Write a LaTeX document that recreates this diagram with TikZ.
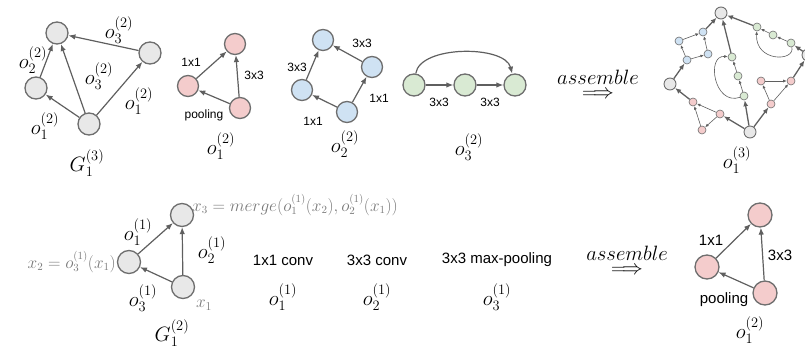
\documentclass[tikz,border=0pt]{standalone}
\usepackage{amsmath,amssymb}
\usepackage{fontspec}
\setsansfont{Liberation Sans}
\usetikzlibrary{arrows.meta,positioning,calc}
\definecolor{nodegray}{HTML}{E8E8E8}
\definecolor{linegray}{HTML}{6E6E6E}
\definecolor{edgegray}{HTML}{5F5F5F}
\definecolor{pinkfill}{HTML}{F4CCCC}
\definecolor{bluefill}{HTML}{CFE2F3}
\definecolor{greenfill}{HTML}{D9EAD3}
\definecolor{notegray}{HTML}{7A7A7A}
\tikzset{
  cell/.style={circle, draw=linegray, fill=nodegray, line width=1.3pt,
    minimum size=22pt, inner sep=0pt},
  pcell/.style={cell, fill=pinkfill, minimum size=21pt},
  bcell/.style={cell, fill=bluefill, minimum size=21pt},
  gcell/.style={cell, fill=greenfill, minimum size=22pt},
  % the assembled graph
  dot/.style={circle, draw=linegray, fill=nodegray, line width=0.9pt,
    minimum size=12pt, inner sep=0pt},
  tdot/.style={dot, minimum size=8pt, line width=0.6pt},
  edge/.style={-{Latex[length=7pt,width=5.5pt]}, line width=1.2pt, color=edgegray},
  thinedge/.style={-{Latex[length=3.5pt,width=3pt]}, line width=0.6pt, color=edgegray},
  thickedge/.style={-{Latex[length=6pt,width=5pt]}, line width=1.3pt, color=edgegray},
  oplbl/.style={font=\sffamily\fontsize{12}{14}\selectfont, inner sep=0pt},
  opname/.style={font=\sffamily\fontsize{15}{17}\selectfont, inner sep=0pt},
  mlbl/.style={font=\fontsize{20}{24}\selectfont, inner sep=0pt},
  asm/.style={font=\fontsize{20}{24}\selectfont, inner sep=0pt, align=center},
  note/.style={font=\fontsize{16}{18}\selectfont, text=notegray, inner sep=0pt},
}
\begin{document}
\begin{tikzpicture}[x=1pt,y=-1pt]
  \useasboundingbox (0,0) rectangle (805,352);

  % G_1^(3)
  \foreach \n/\x/\y in {ga/57/33, gb/150/53, gc/36/88, gd/89/124}
    \node[cell] (\n) at (\x,\y) {};
  \foreach \s/\t in {gd/gc, gc/ga, gd/ga, gd/gb, gb/ga}
    \draw[edge] (\s) -- (\t);
  \node[mlbl] (ga3) at (119,30) {$o_3^{(2)}$};
  \node[mlbl] (ga2) at (33,60) {$o_2^{(2)}$};
  \node[mlbl] (gm3) at (99,76) {$o_3^{(2)}$};
  \node[mlbl] (gb1) at (139,101) {$o_1^{(2)}$};
  \node[mlbl] (gc1) at (45,126) {$o_1^{(2)}$};
  \node[mlbl] (gname) at (87,163) {$G_1^{(3)}$};

  % o_1^(2)
  \node[pcell] (pa) at (235,44) {};
  \node[pcell] (pb) at (188,86) {};
  \node[pcell] (pc) at (240,108) {};
  \draw[edge] (pc) -- (pb);
  \draw[edge] (pb) -- (pa);
  \draw[edge] (pc) -- (pa);
  \node[oplbl] (p11) at (191,62) {1x1};
  \node[oplbl] (p33) at (254,75) {3x3};
  \node[oplbl] (ppo) at (204,115) {pooling};
  \node[mlbl] (pname) at (221,146) {$o_1^{(2)}$};

  % o_2^(2)
  \foreach \n/\x/\y in {ba/323/40, bb/372/67, bc/302/90, bd/347/112}
    \node[bcell] (\n) at (\x,\y) {};
  \foreach \s/\t in {bd/bc, bd/bb, bc/ba, bb/ba}
    \draw[edge] (\s) -- (\t);
  \node[oplbl] (b33a) at (362,43) {3x3};
  \node[oplbl] (b33b) at (297,67) {3x3};
  \node[oplbl] (b11a) at (379,98) {1x1};
  \node[oplbl] (b11b) at (313,121) {1x1};
  \node[mlbl] (bname) at (345,144) {$o_2^{(2)}$};

  % o_3^(2)
  \foreach \n/\x in {ca/414, cb/465, cc/515}
    \node[gcell] (\n) at (\x,85) {};
  \draw[edge] (ca) -- (cb);
  \draw[edge] (cb) -- (cc);
  \draw[edge] (ca) .. controls (420,45) and (505,45) .. (cc);
  \node[oplbl] (c33a) at (439,102) {3x3};
  \node[oplbl] (c33b) at (490,102) {3x3};
  \node[mlbl] (cname) at (469,147) {$o_3^{(2)}$};

  \node[asm] (asma) at (598,84) {$assemble$\\[-10pt]$\Longrightarrow$};

  % o_1^(3), assembled
  \foreach \n/\x/\y in {aT/721/13, aL/670/84, aB/750/132, aR/808/55}
    \node[dot] (\n) at (\x,\y) {};
  \foreach \n/\x/\y in {ub/687/60, ul/679/41, ur/708/54, ut/703/32}
    \node[tdot, fill=bluefill] (\n) at (\x,\y) {};
  \foreach \n/\x/\y in {m1/744/96, m2/738/76, m3/732/57, t1/791/43, t2/773/35, t3/757/27}
    \node[tdot, fill=greenfill] (\n) at (\x,\y) {};
  \foreach \n/\x/\y in {r1/771/104, r2/761/81, r3/791/81, s1/720/114, s2/702/130, s3/693/102}
    \node[tdot, fill=pinkfill] (\n) at (\x,\y) {};
  \foreach \s/\t in {aL/ub, ut/aT, aB/m1, m3/aT, aB/s1, s3/aL, aB/r1, r3/aR, aR/t1, t3/aT}
    \draw[thickedge] (\s) -- (\t);
  \foreach \s/\t in {ub/ul, ub/ur, ul/ut, ur/ut, m1/m2, m2/m3, t1/t2, t2/t3,
      r1/r2, r2/r3, r1/r3, s1/s2, s2/s3, s1/s3}
    \draw[thinedge] (\s) -- (\t);
  \draw[thinedge] (m1) .. controls (714,106) and (706,55) .. (m3);
  \draw[thinedge] (t1) .. controls (795,62) and (755,62) .. (t3);
  \node[mlbl] (aname) at (737,160) {$o_1^{(3)}$};

  % G_1^(2)
  \node[cell, minimum size=23pt] (ka) at (182,215) {};
  \node[cell, minimum size=23pt] (kb) at (129,262) {};
  \node[cell, minimum size=23pt] (kc) at (183,287) {};
  \draw[edge] (kc) -- (kb);
  \draw[edge] (kb) -- (ka);
  \draw[edge] (kc) -- (ka);
  \node[note, anchor=west] (kmerge) at (192,205)
    {$x_3 = merge(o_1^{(1)}(x_2), o_2^{(1)}(x_1))$};
  \node[note, anchor=east] (kin) at (116,262) {$x_2 = o_3^{(1)}(x_1)$};
  \node[note, font=\fontsize{17}{19}\selectfont] (kx) at (204,305) {$x_1$};
  \node[mlbl] (ka1) at (138,232) {$o_1^{(1)}$};
  \node[mlbl] (kc2) at (212,250) {$o_2^{(1)}$};
  \node[mlbl] (kc3) at (143,298) {$o_3^{(1)}$};
  \node[mlbl] (kname) at (172,333) {$G_1^{(2)}$};

  % primitive operations
  \foreach \n/\x/\t/\o in {opa/283/1x1 conv/1, opb/377/3x3 conv/2, opc/497/3x3 max-pooling/3} {
    \node[opname] (\n) at (\x,260) {\t};
    \node[mlbl] (\n-o) at (\x,297) {$o_\o^{(1)}$};
  }

  \node[asm] (asmb) at (627,260) {$assemble$\\[-10pt]$\Longrightarrow$};

  % o_1^(2), assembled
  \node[pcell, minimum size=24pt] (qa) at (760,215) {};
  \node[pcell, minimum size=24pt] (qb) at (707,267) {};
  \node[pcell, minimum size=24pt] (qc) at (765,293) {};
  \draw[edge] (qc) -- (qb);
  \draw[edge] (qb) -- (qa);
  \draw[edge] (qc) -- (qa);
  \node[opname] (q11) at (711,240) {1x1};
  \node[opname] (q33) at (780,255) {3x3};
  \node[opname] (qpo) at (724,300) {pooling};
  \node[mlbl] (qname) at (750,330) {$o_1^{(2)}$};
\end{tikzpicture}
\end{document}
